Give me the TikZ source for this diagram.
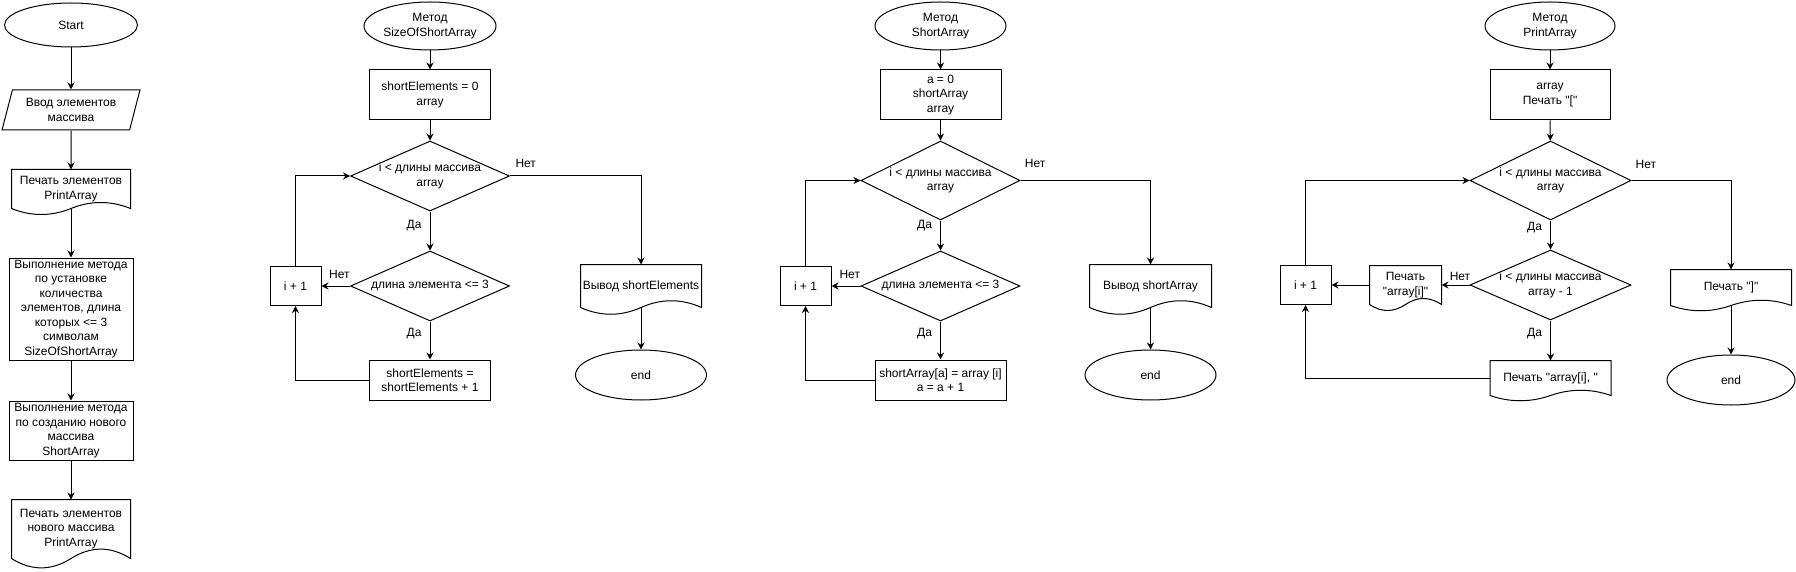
\documentclass[tikz,border=0pt]{standalone}
\usepackage{fontspec}
\setmainfont{Liberation Sans}[Ligatures=TeXOff]
\usetikzlibrary{shapes.geometric,arrows.meta,calc}

\newcommand{\wavedoc}[2]{%
  \draw (#1.south east) -- (#1.north east) -- (#1.north west) -- (#1.south west)
    .. controls ($(#1.south west)!1/3!(#1.south)+(0,#2)$) and ($(#1.south west)!2/3!(#1.south)+(0,#2)$) .. (#1.south)
    .. controls ($(#1.south)!1/3!(#1.south east)-(0,#2)$) and ($(#1.south)!2/3!(#1.south east)-(0,#2)$) .. (#1.south east) -- cycle;}

\tikzset{
  every node/.style={font=\fontsize{12}{14.5}\selectfont, align=center},
  term/.style={draw, ellipse, inner sep=0pt, minimum width=131, minimum height=48},
  proc/.style={draw, rectangle, inner sep=1pt, minimum width=121, minimum height=50},
  cond/.style={draw, diamond, inner sep=0pt, minimum width=159, minimum height=70},
  doc/.style={rectangle, inner sep=1pt, minimum width=120, minimum height=42},
  inout/.style={draw, trapezium, trapezium left angle=70.7, trapezium right angle=109.3,
    trapezium stretches=true, inner sep=0pt, minimum width=138, minimum height=40},
  lbl/.style={inner sep=1pt},
}

\begin{document}
\begin{tikzpicture}[x=1pt, y=-1pt, line width=1pt, >={Stealth[length=7pt, width=7pt]}]
  \useasboundingbox (0,0) rectangle (1796,572);
  \node[term, minimum width=133, minimum height=44] (s0) at (71,25) {Start};
  \node[inout] (s1) at (71,110) {Ввод элементов\\массива};
  \node[doc, minimum width=118, minimum height=38] (s2) at (71,189) {Печать элементов\\PrintArray};
  \node[proc, minimum width=124, minimum height=102, inner sep=0pt] (s3) at (71,309)
    {Выполнение метода\\по установке\\количества\\элементов, длина\\которых <= 3\\символам\\SizeOfShortArray};
  \node[proc, minimum width=124, minimum height=59, inner sep=0pt] (s4) at (71,430.5)
    {Выполнение метода\\по созданию нового\\массива\\ShortArray};
  \node[doc, minimum width=118, minimum height=58] (s5) at (71,529) {Печать элементов\\нового массива\\PrintArray};
  \wavedoc{s2}{8}
  \wavedoc{s5}{12.5}

  \node[term] (a0) at (430,26) {Метод\\SizeOfShortArray};
  \node[proc] (a1) at (430,95) {shortElements = 0\\array};
  \node[cond, label={center:i < длины массива\\array}] (a2) at (430,176) {};
  \node[cond, label={center:длина элемента <= 3}] (a3) at (430,286) {};
  \node[proc, minimum height=40] (a4) at (430,380) {shortElements =\\shortElements + 1};
  \node[proc, minimum width=51, minimum height=39] (a5) at (295.5,286) {i + 1};
  \node[doc] (a6) at (641,286) {Вывод shortElements};
  \node[term, minimum height=50] (a7) at (641,375) {end};
  \wavedoc{a6}{9}

  \node[term] (b0) at (940.5,26) {Метод\\ShortArray};
  \node[proc] (b1) at (940.5,95) {a = 0\\shortArray\\array};
  \node[cond, minimum height=79, label={center:i < длины массива\\array}] (b2) at (940.5,180.5) {};
  \node[cond, label={center:длина элемента <= 3}] (b3) at (940.5,286) {};
  \node[proc, minimum width=131, minimum height=40] (b4) at (940.5,380) {shortArray[a] = array [i]\\a = a + 1};
  \node[proc, minimum width=51, minimum height=39] (b5) at (805.5,286) {i + 1};
  \node[doc, minimum width=121] (b6) at (1150.5,286) {Вывод shortArray};
  \node[term, minimum height=50] (b7) at (1150.5,375) {end};
  \wavedoc{b6}{9}

  \node[term, minimum width=130] (c0) at (1550,26) {Метод\\PrintArray};
  \node[proc, minimum width=120] (c1) at (1550,95) {array\\Печать "["};
  \node[cond, minimum width=161, minimum height=79, label={center:i < длины массива\\array}] (c2) at (1550.5,180.5) {};
  \node[cond, minimum width=161, label={center:i < длины массива\\array - 1}] (c3) at (1550.5,285) {};
  \node[doc, minimum height=34] (c4) at (1550.5,378) {Печать "array[i], "};
  \node[proc, minimum width=51, minimum height=39] (c5) at (1305.5,285) {i + 1};
  \node[doc, minimum width=71, minimum height=38] (c6) at (1405.5,285) {Печать\\"array[i]"};
  \node[doc, minimum height=35] (c7) at (1731,287.5) {Печать "]"};
  \node[term, minimum width=128, minimum height=50] (c8) at (1731,380) {end};
  \wavedoc{c4}{7}
  \wavedoc{c6}{8}
  \wavedoc{c7}{7}

  \begin{scope}[->]
    \draw (s0) to (s1);
    \draw (s1) to (s2);
    \draw (s2) to (s3);
    \draw (s3) to (s4);
    \draw (s4) to (s5);

    \draw (a0) to (a1);
    \draw (a1) to (a2);
    \draw (a2) to node[lbl, pos=.35, left=7pt] (a8) {Да} (a3);
    \draw (a3) to node[lbl, pos=.33, left=7pt] (a9) {Да} (a4);
    \draw (a3) to node[lbl, pos=.37, above=5.5pt] (a10) {Нет} (a5);
    \draw (a4) -| (a5);
    \draw (a5) |- (a2);
    \draw (a2) -| node[lbl, pos=.06, above=7pt] (a11) {Нет} (a6);
    \draw (a6) to (a7);

    \draw (b0) to (b1);
    \draw (b1) to (b2);
    \draw (b2) to node[lbl, pos=.16, left=7pt] (b8) {Да} (b3);
    \draw (b3) to node[lbl, pos=.33, left=7pt] (b9) {Да} (b4);
    \draw (b3) to node[lbl, pos=.37, above=5.5pt] (b10) {Нет} (b5);
    \draw (b4) -| (b5);
    \draw (b5) |- (b2);
    \draw (b2) -| node[lbl, pos=.056, above=11pt] (b11) {Нет} (b6);
    \draw (b6) to (b7);

    \draw (c0) to (c1);
    \draw (c1) to (c2);
    \draw (c2) to node[lbl, pos=.23, left=7pt] (c9) {Да} (c3);
    \draw (c3) to node[lbl, pos=.32, left=7pt] (c10) {Да} (c4);
    \draw (c3) to node[lbl, pos=.34, above=3pt] (c11) {Нет} (c6);
    \draw (c6) to (c5);
    \draw (c4) -| (c5);
    \draw (c5) |- (c2);
    \draw (c2) -| node[lbl, pos=.072, above=10pt] (c12) {Нет} (c7);
    \draw (c7) to (c8);
  \end{scope}
\end{tikzpicture}
\end{document}
